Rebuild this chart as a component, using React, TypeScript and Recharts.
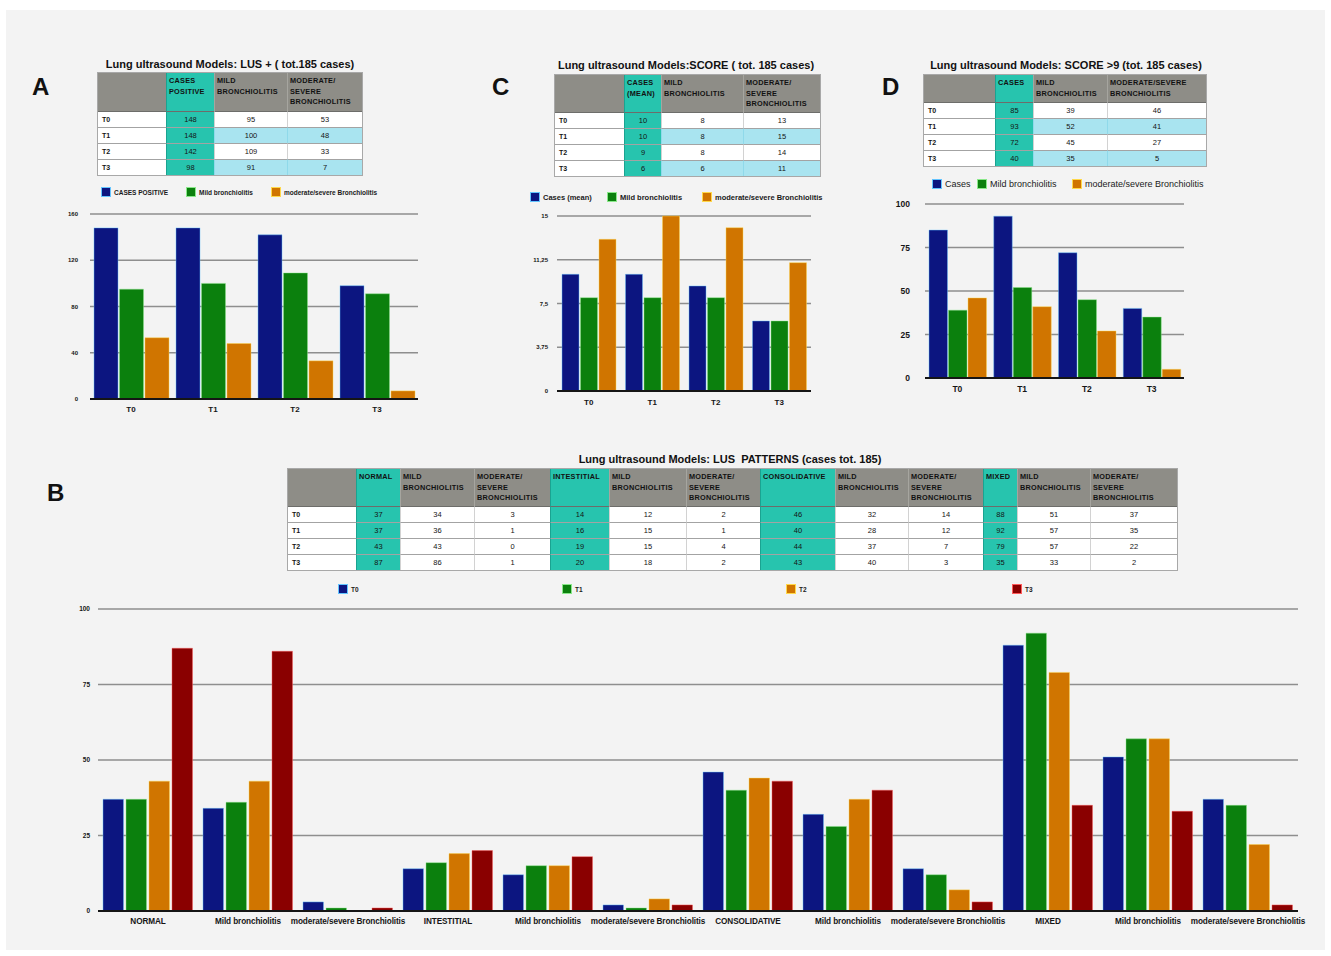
import React from 'react'
import { BarChart, Bar, XAxis, YAxis, CartesianGrid } from 'recharts'

const FONT = '"Liberation Sans", Arial, Helvetica, sans-serif'
const NAVY = '#0c1580'
const GREEN = '#0b800d'
const ORANGE = '#d07500'
const MAROON = '#8a0000'
const EDGE: Record<string, string> = {
  [NAVY]: '#63c4ff',
  [GREEN]: '#8ae88a',
  [ORANGE]: '#ffd84a',
  [MAROON]: '#ff5a5a',
}

const timepoints = ['T0', 'T1', 'T2', 'T3']

// A: LUS +
const lusCases = [148, 148, 142, 98]
const lusMild = [95, 100, 109, 91]
const lusModSev = [53, 48, 33, 7]

// C: SCORE (mean)
const scoreCases = [10, 10, 9, 6]
const scoreMild = [8, 8, 8, 6]
const scoreModSev = [13, 15, 14, 11]

// D: SCORE > 9
const score9Cases = [85, 93, 72, 40]
const score9Mild = [39, 52, 45, 35]
const score9ModSev = [46, 41, 27, 5]

// B: LUS patterns
const patternCategories = [
  'NORMAL',
  'Mild bronchiolitis',
  'moderate/severe Bronchiolitis',
  'INTESTITIAL',
  'Mild bronchiolitis ',
  'moderate/severe Bronchiolitis ',
  'CONSOLIDATIVE',
  'Mild bronchiolitis  ',
  'moderate/severe Bronchiolitis  ',
  'MIXED',
  'Mild bronchiolitis   ',
  'moderate/severe Bronchiolitis   ',
]
const patternT0 = [37, 34, 3, 14, 12, 2, 46, 32, 14, 88, 51, 37]
const patternT1 = [37, 36, 1, 16, 15, 1, 40, 28, 12, 92, 57, 35]
const patternT2 = [43, 43, 0, 19, 15, 4, 44, 37, 7, 79, 57, 22]
const patternT3 = [87, 86, 1, 20, 18, 2, 43, 40, 3, 35, 33, 2]

const MILD_H = ['MILD', 'BRONCHIOLITIS']
const MOD_H = ['MODERATE/', 'SEVERE', 'BRONCHIOLITIS']

type Series = { key: string; values: number[]; color: string }

function GroupChart(props: {
  plot: [number, number, number, number]
  categories: string[]
  series: Series[]
  domain: [number, number]
  ticks: number[]
  yFmt?: (v: number) => string
  barSize: number
  barGap: number
  yFont: number
  yMargin: number
  xFont: number
  xMargin: number
  xSpacing?: number
  rightPad?: number
}) {
  const [px, py, pw, ph] = props.plot
  const W = 30
  const R = props.rightPad ?? 5
  const data = props.categories.map((c, i) => {
    const row: Record<string, string | number> = { name: c }
    props.series.forEach((s) => (row[s.key] = s.values[i]))
    return row
  })
  return (
    <div style={{ position: 'absolute', left: px - W, top: py - 5 }}>
      <BarChart
        width={W + pw + R}
        height={5 + ph + 22}
        data={data}
        margin={{ top: 5, right: R, bottom: 0, left: 0 }}
        barSize={props.barSize}
        barGap={props.barGap}
        style={{ overflow: 'visible' }}
      >
        <CartesianGrid vertical={false} stroke="#8e8e8e" strokeWidth={1.3} />
        <XAxis
          dataKey="name"
          height={22}
          interval={0}
          tickLine={false}
          tickSize={0}
          tickMargin={props.xMargin}
          axisLine={{ stroke: '#151515', strokeWidth: 2 }}
          tickFormatter={(v: string) => v.trim()}
          tick={{
            fontSize: props.xFont,
            fontWeight: 'bold',
            fill: '#151515',
            fontFamily: FONT,
            letterSpacing: props.xSpacing ?? 0,
          }}
        />
        <YAxis
          width={W}
          domain={props.domain}
          ticks={props.ticks}
          interval={0}
          axisLine={false}
          tickLine={false}
          tickSize={0}
          tickMargin={props.yMargin}
          tickFormatter={props.yFmt}
          tick={{ fontSize: props.yFont, fontWeight: 'bold', fill: '#151515', fontFamily: FONT }}
        />
        {props.series.map((s) => (
          <Bar
            key={s.key}
            dataKey={s.key}
            fill={s.color}
            stroke={EDGE[s.color]}
            strokeWidth={0.8}
            strokeOpacity={0.55}
            isAnimationActive={false}
          />
        ))}
      </BarChart>
    </div>
  )
}

function DataTable(props: {
  left: number
  top: number
  colWidths: number[]
  headerHeight: number
  rowHeight: number
  headers: string[][]
  rowLabels: string[]
  rows: number[][]
  tealCols: number[]
  highlightRows?: number[]
}) {
  const xs: number[] = []
  let acc = 0
  props.colWidths.forEach((w) => {
    xs.push(acc)
    acc += w
  })
  const total = acc
  const totalH = props.headerHeight + props.rowHeight * props.rows.length
  const cells: React.ReactNode[] = []
  props.colWidths.forEach((w, c) => {
    const teal = props.tealCols.includes(c)
    cells.push(
      <div
        key={`h${c}`}
        style={{
          position: 'absolute',
          left: xs[c],
          top: 0,
          width: w,
          height: props.headerHeight,
          boxSizing: 'border-box',
          background: teal ? '#27c4ae' : '#8e8d87',
          borderLeft: c > 0 ? `1px solid ${teal ? '#1aa391' : '#a6a59f'}` : 'none',
          padding: '3px 2px',
          fontSize: 7.3,
          lineHeight: '10.5px',
          fontWeight: 'bold',
          color: '#121212',
          whiteSpace: 'nowrap',
          letterSpacing: 0.25,
        }}
      >
        {(props.headers[c] || []).map((l, k) => (
          <div key={k}>{l}</div>
        ))}
      </div>
    )
    props.rows.forEach((row, r) => {
      const hl = (props.highlightRows || []).includes(r) && c > 0 && !teal
      const bg = teal ? '#27c4ae' : hl ? '#a9e4f0' : '#ffffff'
      cells.push(
        <div
          key={`c${r}-${c}`}
          style={{
            position: 'absolute',
            left: xs[c],
            top: props.headerHeight + r * props.rowHeight,
            width: w,
            height: props.rowHeight,
            boxSizing: 'border-box',
            background: bg,
            borderTop: `1px solid ${r === 0 ? '#6d6d6a' : '#a3a3a3'}`,
            borderLeft: c > 0 ? `1px solid ${teal ? '#1aa391' : hl ? '#8fd9ea' : '#d2d2d2'}` : 'none',
            display: 'flex',
            alignItems: 'center',
            justifyContent: c === 0 ? 'flex-start' : 'center',
            paddingLeft: c === 0 ? 4 : 0,
            fontSize: c === 0 ? 7 : 7.5,
            fontWeight: c === 0 ? 'bold' : 'normal',
            color: '#141414',
          }}
        >
          {c === 0 ? props.rowLabels[r] : row[c - 1]}
        </div>
      )
    })
  })
  return (
    <div
      style={{
        position: 'absolute',
        left: props.left,
        top: props.top,
        width: total,
        height: totalH,
        border: '1px solid #a8a8a8',
        boxSizing: 'content-box',
        fontFamily: FONT,
      }}
    >
      {cells}
    </div>
  )
}

function Legend(props: {
  top: number
  items: { x: number; label: string; color: string }[]
  font: number
  bold?: boolean
}) {
  return (
    <>
      {props.items.map((it) => (
        <div
          key={it.label + it.x}
          style={{
            position: 'absolute',
            left: it.x,
            top: props.top - 5,
            height: 10,
            display: 'flex',
            alignItems: 'center',
            fontFamily: FONT,
            fontSize: props.font,
            fontWeight: props.bold ? 'bold' : 'normal',
            color: '#1a1a1a',
            whiteSpace: 'nowrap',
          }}
        >
          <span
            style={{
              display: 'inline-block',
              width: 8,
              height: 8,
              background: it.color,
              boxShadow: `0 0 0 1px ${EDGE[it.color]}`,
              marginRight: 4,
            }}
          />
          {it.label}
        </div>
      ))}
    </>
  )
}

function Text(props: { x: number; y: number; size: number; children: React.ReactNode; center?: boolean }) {
  return (
    <div
      style={{
        position: 'absolute',
        left: props.x,
        top: props.y,
        transform: props.center ? 'translate(-50%, -50%)' : 'translateY(-50%)',
        fontFamily: FONT,
        fontSize: props.size,
        fontWeight: 'bold',
        color: '#111',
        whiteSpace: 'pre',
      }}
    >
      {props.children}
    </div>
  )
}

const trio = (a: number[], b: number[], c: number[]) => timepoints.map((_, i) => [a[i], b[i], c[i]])
const comma = (v: number) => String(v).replace('.', ',')

export default function App() {
  return (
    <div style={{ position: 'absolute', left: 0, top: 0, width: 1331, height: 956, background: '#ffffff', overflow: 'hidden' }}>
      <div style={{ position: 'absolute', left: 6, top: 10, width: 1319, height: 940, background: '#f3f3f3' }} />

      {/* Panel A */}
      <Text x={32} y={87} size={24}>A</Text>
      <Text x={230} y={64} size={11} center>Lung ultrasound Models: LUS + ( tot.185 cases)</Text>
      <DataTable
        left={97}
        top={72}
        colWidths={[68, 48, 73, 75]}
        headerHeight={38}
        rowHeight={16}
        headers={[[], ['CASES', 'POSITIVE'], MILD_H, MOD_H]}
        rowLabels={timepoints}
        rows={trio(lusCases, lusMild, lusModSev)}
        tealCols={[1]}
        highlightRows={[1, 3]}
      />
      <Legend
        top={192}
        font={6.5}
        bold
        items={[
          { x: 102, label: 'CASES POSITIVE', color: NAVY },
          { x: 187, label: 'Mild bronchiolitis', color: GREEN },
          { x: 272, label: 'moderate/severe Bronchiolitis', color: ORANGE },
        ]}
      />
      <GroupChart
        plot={[90, 214, 328, 185]}
        categories={timepoints}
        series={[
          { key: 'cases', values: lusCases, color: NAVY },
          { key: 'mild', values: lusMild, color: GREEN },
          { key: 'modsev', values: lusModSev, color: ORANGE },
        ]}
        domain={[0, 160]}
        ticks={[0, 40, 80, 120, 160]}
        barSize={24}
        barGap={1.5}
        yFont={6}
        yMargin={12}
        xFont={8}
        xMargin={7}
      />

      {/* Panel C */}
      <Text x={492} y={87} size={24}>C</Text>
      <Text x={686} y={65} size={11} center>Lung ultrasound Models:SCORE ( tot. 185 cases)</Text>
      <DataTable
        left={554}
        top={74}
        colWidths={[69, 37, 82, 77]}
        headerHeight={37}
        rowHeight={16}
        headers={[[], ['CASES', '(MEAN)'], MILD_H, MOD_H]}
        rowLabels={timepoints}
        rows={trio(scoreCases, scoreMild, scoreModSev)}
        tealCols={[1]}
        highlightRows={[1, 3]}
      />
      <Legend
        top={197}
        font={7.5}
        bold
        items={[
          { x: 531, label: 'Cases (mean)', color: NAVY },
          { x: 608, label: 'Mild bronchiolitis', color: GREEN },
          { x: 703, label: 'moderate/severe Bronchiolitis', color: ORANGE },
        ]}
      />
      <GroupChart
        plot={[557, 216, 254, 175]}
        categories={timepoints}
        series={[
          { key: 'cases', values: scoreCases, color: NAVY },
          { key: 'mild', values: scoreMild, color: GREEN },
          { key: 'modsev', values: scoreModSev, color: ORANGE },
        ]}
        domain={[0, 15]}
        ticks={[0, 3.75, 7.5, 11.25, 15]}
        yFmt={comma}
        barSize={17}
        barGap={1.5}
        yFont={6}
        yMargin={9}
        xFont={8}
        xMargin={8}
      />

      {/* Panel D */}
      <Text x={882} y={87} size={24}>D</Text>
      <Text x={1066} y={65} size={11} center>Lung ultrasound Models: SCORE {'>'}9 (tot. 185 cases)</Text>
      <DataTable
        left={923}
        top={74}
        colWidths={[71, 38, 74, 99]}
        headerHeight={27}
        rowHeight={16}
        headers={[[], ['CASES'], MILD_H, ['MODERATE/SEVERE', 'BRONCHIOLITIS']]}
        rowLabels={timepoints}
        rows={trio(score9Cases, score9Mild, score9ModSev)}
        tealCols={[1]}
        highlightRows={[1, 3]}
      />
      <Legend
        top={184}
        font={9}
        items={[
          { x: 933, label: 'Cases', color: NAVY },
          { x: 978, label: 'Mild bronchiolitis', color: GREEN },
          { x: 1073, label: 'moderate/severe Bronchiolitis', color: ORANGE },
        ]}
      />
      <GroupChart
        plot={[925, 204, 259, 174]}
        categories={timepoints}
        series={[
          { key: 'cases', values: score9Cases, color: NAVY },
          { key: 'mild', values: score9Mild, color: GREEN },
          { key: 'modsev', values: score9ModSev, color: ORANGE },
        ]}
        domain={[0, 100]}
        ticks={[0, 25, 50, 75, 100]}
        barSize={18.5}
        barGap={1}
        yFont={8.5}
        yMargin={15}
        xFont={8.5}
        xMargin={8}
      />

      {/* Panel B */}
      <Text x={47} y={493} size={24}>B</Text>
      <Text x={730} y={459} size={11} center>Lung ultrasound Models: LUS  PATTERNS (cases tot. 185)</Text>
      <DataTable
        left={287}
        top={468}
        colWidths={[68, 44, 74, 76, 59, 77, 74, 75, 73, 75, 34, 73, 87]}
        headerHeight={37}
        rowHeight={16}
        headers={[
          [],
          ['NORMAL'],
          MILD_H,
          MOD_H,
          ['INTESTITIAL'],
          MILD_H,
          MOD_H,
          ['CONSOLIDATIVE'],
          MILD_H,
          MOD_H,
          ['MIXED'],
          MILD_H,
          MOD_H,
        ]}
        rowLabels={timepoints}
        rows={[patternT0, patternT1, patternT2, patternT3]}
        tealCols={[1, 4, 7, 10]}
      />
      <Legend
        top={589}
        font={6.5}
        bold
        items={[
          { x: 339, label: 'T0', color: NAVY },
          { x: 563, label: 'T1', color: GREEN },
          { x: 787, label: 'T2', color: ORANGE },
          { x: 1013, label: 'T3', color: MAROON },
        ]}
      />
      <GroupChart
        plot={[98, 609, 1200, 302]}
        categories={patternCategories}
        series={[
          { key: 't0', values: patternT0, color: NAVY },
          { key: 't1', values: patternT1, color: GREEN },
          { key: 't2', values: patternT2, color: ORANGE },
          { key: 't3', values: patternT3, color: MAROON },
        ]}
        domain={[0, 100]}
        ticks={[0, 25, 50, 75, 100]}
        barSize={20.5}
        barGap={2.5}
        yFont={6.5}
        yMargin={8}
        xFont={8.2}
        xMargin={7}
        xSpacing={-0.1}
        rightPad={20}
      />
    </div>
  )
}
